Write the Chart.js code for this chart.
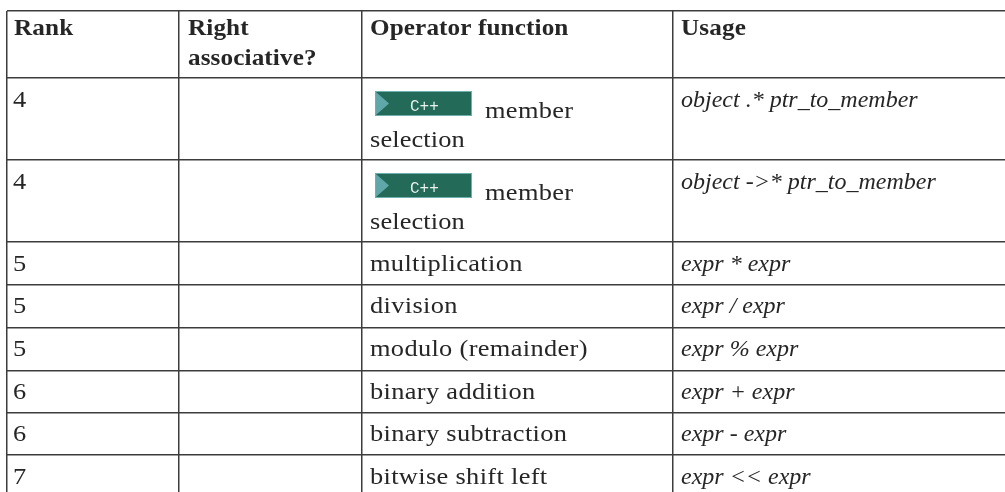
<!DOCTYPE html>
<html>
<head>
<meta charset="utf-8">
<style>
  html, body { margin: 0; padding: 0; background: #fff; }
  #wrap { width: 1005px; height: 492px; }
</style>
<script src="https://cdn.jsdelivr.net/npm/chart.js@4"></script>
</head>
<body>
<div id="wrap"><canvas id="myChart" width="1005" height="492"></canvas></div>
<script>
var headers = [["Rank"], ["Right", "associative?"], ["Operator function"], ["Usage"]];
var ranks = ["4", "4", "5", "5", "5", "6", "6", "7"];
var operators = [
  ["member", "selection"],
  ["member", "selection"],
  ["multiplication"],
  ["division"],
  ["modulo (remainder)"],
  ["binary addition"],
  ["binary subtraction"],
  ["bitwise shift left"],
];
var usages = [
  "object .* ptr_to_member",
  "object ->* ptr_to_member",
  "expr * expr",
  "expr / expr",
  "expr % expr",
  "expr + expr",
  "expr - expr",
  "expr << expr",
];
var badgeLabel = "C++";

// table layout, in page pixels
var colEdges = [7, 179, 362, 673];
var rowEdges = [11, 78, 160, 242, 285, 328, 371, 413, 455];
var colText = [14, 188, 370, 681];
var baselines = [107, 189, 271, 313, 356, 399, 441, 484];

var font = '"Liberation Serif", serif';
var ink = "#262626";

// no Palatino here, so widen Liberation Serif a bit
function put(ctx, text, x, y, style, spacing, widen) {
  ctx.save();
  ctx.font = style;
  ctx.letterSpacing = spacing;
  ctx.translate(x, y);
  ctx.scale(widen, 1);
  ctx.fillText(text, 0, 0);
  ctx.restore();
}

function drawBadge(ctx, sx, sy, yTop) {
  var left = sx.getPixelForValue(375);
  var top = sy.getPixelForValue(yTop);
  ctx.fillStyle = "#236a58";
  ctx.fillRect(left, top, 97, 25);
  ctx.strokeStyle = "#6fb0ac";
  ctx.lineWidth = 1;
  ctx.strokeRect(left + 0.5, top + 0.5, 96, 24);
  ctx.fillStyle = "#5fa7a8";
  ctx.beginPath();
  ctx.moveTo(left + 1, top + 1);
  ctx.lineTo(left + 14, top + 12.5);
  ctx.lineTo(left + 1, top + 24);
  ctx.closePath();
  ctx.fill();
  ctx.fillStyle = "#e8f2ee";
  put(ctx, badgeLabel, left + 35, top + 19.5, '16px "Liberation Mono", monospace', "0px", 1);
}

var tableText = {
  id: "tableText",
  afterDraw: function (chart) {
    var ctx = chart.ctx;
    var sx = chart.scales.x;
    var sy = chart.scales.y;
    ctx.save();
    ctx.textBaseline = "alphabetic";
    ctx.fillStyle = ink;

    var bold = "bold 24px " + font;
    var plain = "24px " + font;
    var italic = "italic 24px " + font;

    put(ctx, headers[0][0], sx.getPixelForValue(colText[0]), sy.getPixelForValue(35), bold, "0.1px", 1.05);
    put(ctx, headers[1][0], sx.getPixelForValue(colText[1]), sy.getPixelForValue(35), bold, "0.1px", 1.05);
    put(ctx, headers[1][1], sx.getPixelForValue(colText[1]), sy.getPixelForValue(65), bold, "0.1px", 1.05);
    put(ctx, headers[2][0], sx.getPixelForValue(colText[2]), sy.getPixelForValue(35), bold, "0.1px", 1.05);
    put(ctx, headers[3][0], sx.getPixelForValue(colText[3]), sy.getPixelForValue(35), bold, "0.1px", 1.05);

    ranks.forEach(function (rank, i) {
      var base = baselines[i];
      put(ctx, rank, sx.getPixelForValue(13), sy.getPixelForValue(base), plain, "0px", 1.1);
      put(ctx, usages[i], sx.getPixelForValue(colText[3]), sy.getPixelForValue(base), italic, "0px", 1);
      var op = operators[i];
      if (op.length === 2) {
        put(ctx, op[0], sx.getPixelForValue(485), sy.getPixelForValue(base + 11), plain, "0.3px", 1.1);
        put(ctx, op[1], sx.getPixelForValue(colText[2]), sy.getPixelForValue(base + 40), plain, "0.1px", 1.1);
        drawBadge(ctx, sx, sy, base - 16);
        ctx.fillStyle = ink;
      } else {
        put(ctx, op[0], sx.getPixelForValue(colText[2]), sy.getPixelForValue(base), plain, "0.3px", 1.1);
      }
    });
    ctx.restore();
  },
};

var ctx = document.getElementById("myChart").getContext("2d");
var newChart = new Chart(ctx, {
  type: "scatter",
  data: { datasets: [{ data: [], pointRadius: 0 }] },
  options: {
    responsive: false,
    animation: false,
    layout: { padding: { left: 7, top: 11, right: 0, bottom: 0 } },
    plugins: { legend: { display: false }, tooltip: { enabled: false } },
    scales: {
      x: {
        type: "linear",
        position: "top",
        min: 7,
        max: 1005,
        afterBuildTicks: function (axis) {
          axis.ticks = colEdges.map(function (v) { return { value: v }; });
        },
        ticks: { display: false },
        border: { display: false },
        grid: { color: "#3c3c3c", lineWidth: 1.5, drawTicks: false, tickLength: 0 },
      },
      y: {
        type: "linear",
        reverse: true,
        min: 11,
        max: 492,
        afterBuildTicks: function (axis) {
          axis.ticks = rowEdges.map(function (v) { return { value: v }; });
        },
        ticks: { display: false },
        border: { display: false },
        grid: { color: "#3c3c3c", lineWidth: 1.5, drawTicks: false, tickLength: 0 },
      },
    },
  },
  plugins: [tableText],
});
</script>
</body>
</html>
